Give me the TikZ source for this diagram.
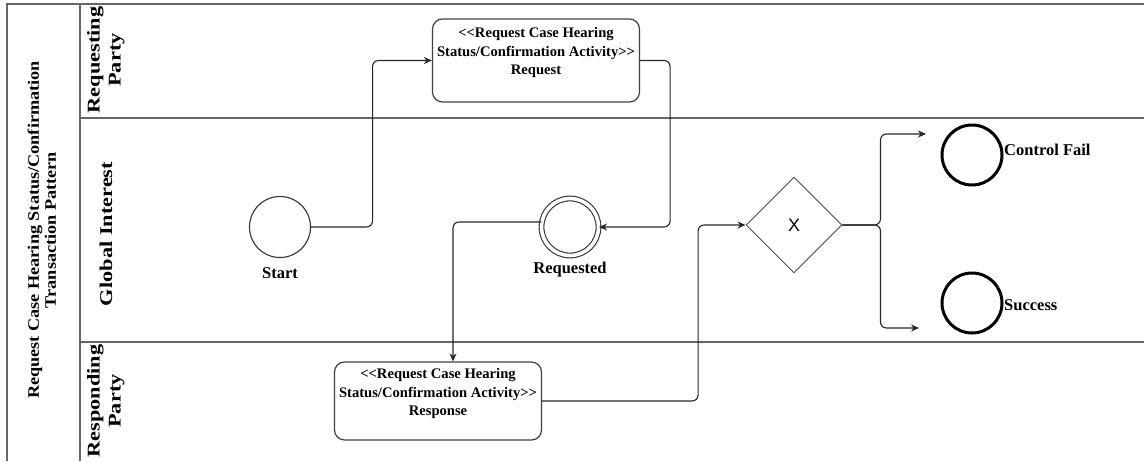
\documentclass[tikz,border=0pt]{standalone}
\usepackage{fontspec}
\setmainfont{Liberation Serif}
\newfontfamily\gatefont{Liberation Sans}
\usetikzlibrary{shapes.geometric,arrows.meta,calc}

% stacked, horizontally stretched heading text
\newcommand{\stretchtext}[2]{\scalebox{#1}[1]{\begin{tabular}{@{}c@{}}#2\end{tabular}}}

\begin{document}
\begin{tikzpicture}[x=1pt,y=-1pt,
  frameline/.style={draw=black!60, line width=1.6pt},
  flow/.style={draw=black!85, line width=1.1pt, rounded corners=6pt,
    -{Stealth[length=8pt,width=7pt,inset=2.5pt]}},
  taskbox/.style={rectangle, draw=black!75, line width=1.2pt, rounded corners=10pt,
    minimum width=207pt, inner sep=0pt},
  tasktext/.style={font=\bfseries\fontsize{14.6}{18.5}\selectfont, align=center,
    anchor=north, inner sep=0pt},
  startev/.style={circle, draw=black!80, line width=1.1pt, minimum size=61pt, inner sep=0pt},
  midev/.style={circle, draw=black!80, line width=1.1pt, double, double distance=3.6pt,
    minimum size=57pt, inner sep=0pt},
  endev/.style={circle, draw=black, line width=3pt, minimum size=60pt, inner sep=0pt},
  gate/.style={diamond, draw=black!70, line width=0.9pt, minimum width=96pt,
    minimum height=96pt, inner sep=0pt, font=\gatefont\fontsize{18}{18}\selectfont},
  evlabel/.style={font=\bfseries\fontsize{16.5}{18}\selectfont, inner sep=0pt},
  lanelabel/.style={font=\bfseries\fontsize{18}{21}\selectfont, rotate=90,
    inner sep=0pt},
  poollabel/.style={font=\bfseries\fontsize{16}{17}\selectfont, rotate=90,
    inner sep=0pt}
]
\useasboundingbox (0,0) rectangle (1144,461);

% pool and lane frame
\draw[frameline] (7,461) -- (7,4) -- (1144,4);
\draw[frameline] (80,4) -- (80,461);
\draw[frameline] (80,118) -- (1144,118);
\draw[frameline] (80,342) -- (1144,342);

% pool and lane titles
\node[poollabel] (pooltitle) at (44,230)
  {\stretchtext{1.14}{Request Case Hearing Status/Confirmation\\Transaction Pattern}};
\node[lanelabel] (lanereq) at (106,60) {\stretchtext{1.24}{Requesting\\Party}};
\node[lanelabel] (laneglob) at (108,234) {\stretchtext{1.24}{Global Interest}};
\node[lanelabel] (laneresp) at (106,401) {\stretchtext{1.24}{Responding\\Party}};

% activities
\node[taskbox, minimum height=83pt] (reqtask) at (536,60.5) {};
\node[tasktext] (reqtext) at ($(reqtask.north)+(0,9)$)
  {{<}{<}Request Case Hearing\\Status/Confirmation Activity{>}{>}\\Request};
\node[taskbox, minimum height=78pt] (resptask) at (438,401) {};
\node[tasktext] (resptext) at ($(resptask.north)+(0,7)$)
  {{<}{<}Request Case Hearing\\Status/Confirmation Activity{>}{>}\\Response};

% events
\node[startev] (start) at (280,227) {};
\node[evlabel] (startlbl) at (280,273) {Start};
\node[midev] (requested) at (570,227) {};
\node[evlabel] (requestedlbl) at (570,270) {Requested};
\node[gate] (gateway) at (794,225) {X};
\node[endev] (fail) at (972,155) {};
\node[evlabel, anchor=west] (faillbl) at (1004,150) {Control Fail};
\node[endev] (success) at (972,303) {};
\node[evlabel, anchor=west] (successlbl) at (1004,305) {Success};

% free ends of the gateway branches
\coordinate (failin) at (926,134);
\coordinate (succin) at (919,328);
\coordinate (dropx) at (453,0);

% sequence flows
\draw[flow] (start.east) -- ++(61.5,0) |- (reqtask.west);
\draw[flow] (reqtask.east) -- ++(30,0) |- (requested.east);
\draw[flow] (requested.170) -| (dropx |- resptask.north);
\draw[flow] (resptask.east) -- ++(156,0) |- (gateway.west);
\draw[flow] (gateway.east) -- ++(38,0) |- (failin);
\draw[flow] (gateway.east) -- ++(38,0) |- (succin);
\end{tikzpicture}
\end{document}
